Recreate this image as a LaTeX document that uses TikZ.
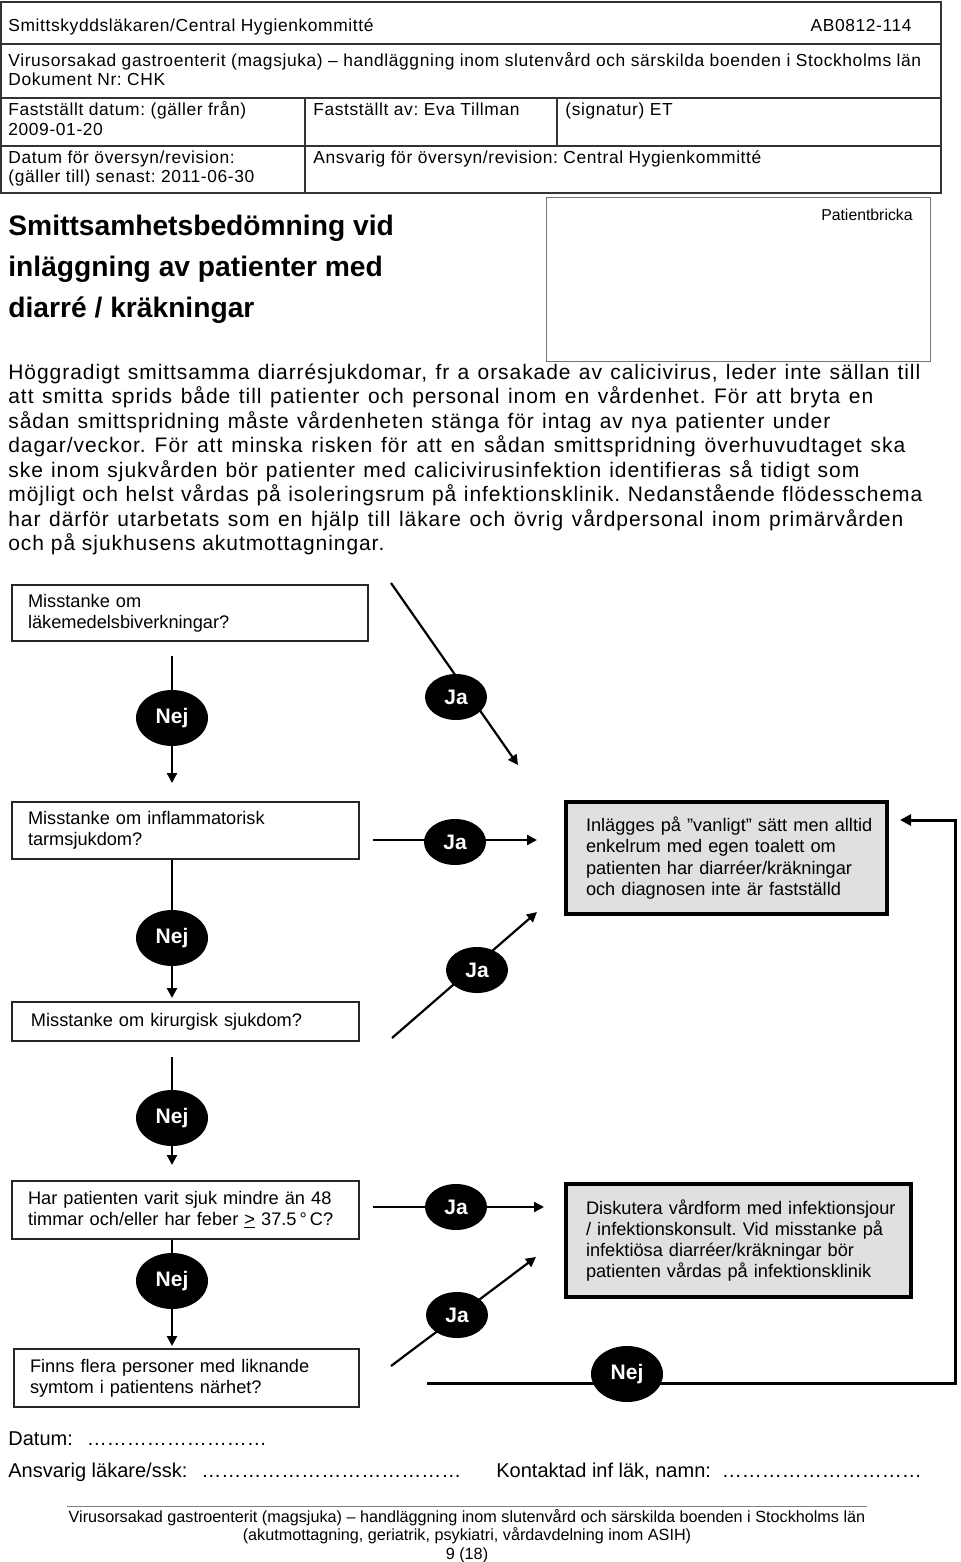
\documentclass[tikz,border=0pt]{standalone}
\usepackage{fontspec}
\setmainfont{Liberation Sans}
\newfontfamily\hdrfont[LetterSpace=3.5]{Liberation Sans}
\newfontfamily\parfont[LetterSpace=4.5]{Liberation Sans}
\usetikzlibrary{shapes.geometric,arrows.meta}
\newcommand{\parline}[2]{\makebox[#1pt][s]{#2}}
\tikzset{
  tbl/.style={draw=black!80, line width=0.8pt},
  hdr/.style={anchor=mid west, inner sep=0pt, font=\hdrfont\fontsize{8.7}{10}\selectfont},
  ttl/.style={anchor=mid west, inner sep=0pt, font=\bfseries\fontsize{14.1}{17}\selectfont},
  ptx/.style={anchor=mid west, inner sep=0pt, font=\parfont\fontsize{10.5}{12}\selectfont},
  qbox/.style={draw=black!85, line width=1pt, fill=white, anchor=north west, align=left,
    inner xsep=8pt, inner ysep=0pt, font=\fontsize{9.1}{10.4}\selectfont},
  gbox/.style={draw=black, line width=2pt, fill=black!12, anchor=north west, align=left,
    inner xsep=10pt, inner ysep=0pt, font=\fontsize{9.1}{10.6}\selectfont},
  yn/.style={ellipse, fill=black, text=white, inner sep=0pt, font=\bfseries\fontsize{10.5}{11}\selectfont},
  nejn/.style={yn, minimum width=36pt, minimum height=28pt},
  jan/.style={yn, minimum width=31pt, minimum height=23pt},
  arr/.style={line width=1.1pt, -{Triangle[length=5pt,width=5pt]}},
  looparr/.style={line width=1.5pt, -{Triangle[length=5.5pt,width=5.5pt]}},
  ftx/.style={anchor=mid west, inner sep=0pt, font=\fontsize{10}{12}\selectfont},
  fot/.style={anchor=mid, inner sep=0pt, font=\fontsize{8.1}{9.5}\selectfont},
}
\begin{document}
\frenchspacing
\begin{tikzpicture}[x=0.5pt,y=-0.5pt]
\useasboundingbox (0,0) rectangle (960,1562);

% ---------- header table ----------
\draw[tbl] (1,2) rectangle (941,193);
\draw[tbl] (1,44) -- (941,44);
\draw[tbl] (1,98) -- (941,98);
\draw[tbl] (1,146) -- (941,146);
\draw[tbl] (305,98) -- (305,193);
\draw[tbl] (557,98) -- (557,146);

\node[hdr] (h1) at (8,26) {Smittskyddsläkaren/Central Hygienkommitté};
\node[hdr, anchor=mid east] (h2) at (912,26) {AB0812-114};
\node[hdr] (h3) at (8,61) {Virusorsakad gastroenterit (magsjuka) – handläggning inom slutenvård och särskilda boenden i Stockholms län};
\node[hdr] (h4) at (8,80) {Dokument Nr: CHK};
\node[hdr] (h5) at (8,110) {Fastställt datum: (gäller från)};
\node[hdr] (h6) at (8,130) {2009-01-20};
\node[hdr] (h7) at (313,110) {Fastställt av: Eva Tillman};
\node[hdr] (h8) at (565,110) {(signatur) ET};
\node[hdr] (h9) at (8,158) {Datum för översyn/revision:};
\node[hdr] (h10) at (8,177) {(gäller till) senast: 2011-06-30};
\node[hdr] (h11) at (313,158) {Ansvarig för översyn/revision: Central Hygienkommitté};

% ---------- title and patient label ----------
\node[ttl] (t1) at (8,230) {Smittsamhetsbedömning vid};
\node[ttl] (t2) at (8,271) {inläggning av patienter med};
\node[ttl] (t3) at (8,312) {diarré / kräkningar};

\draw[draw=black!55, line width=0.5pt] (546,198) rectangle (930,361);
\node[anchor=mid east, inner sep=0pt, font=\fontsize{7.9}{9}\selectfont] (pb) at (913,215) {Patientbricka};

% ---------- paragraph ----------
\node[ptx] (p1) at (8,374) {\parline{456}{Höggradigt smittsamma diarrésjukdomar, fr a orsakade av calicivirus, leder inte sällan till}};
\node[ptx] (p2) at (8,398) {\parline{432.5}{att smitta sprids både till patienter och personal inom en vårdenhet. För att bryta en}};
\node[ptx] (p3) at (8,423) {\parline{411}{sådan smittspridning måste vårdenheten stänga för intag av nya patienter under}};
\node[ptx] (p4) at (8,447) {\parline{448.5}{dagar/veckor. För att minska risken för att en sådan smittspridning överhuvudtaget ska}};
\node[ptx] (p5) at (8,472) {\parline{425.5}{ske inom sjukvården bör patienter med calicivirusinfektion identifieras så tidigt som}};
\node[ptx] (p6) at (8,496) {\parline{457}{möjligt och helst vårdas på isoleringsrum på infektionsklinik. Nedanstående flödesschema}};
\node[ptx] (p7) at (8,521) {\parline{447.5}{har därför utarbetats som en hjälp till läkare och övrig vårdpersonal inom primärvården}};
\node[ptx] (p8) at (8,545) {och på sjukhusens akutmottagningar.};

% ---------- flowchart boxes ----------
\node[qbox, text width=162pt, minimum height=28pt] (q1) at (11,584) {Misstanke om\\läkemedelsbiverkningar?};
\node[qbox, text width=157.5pt, minimum height=28.5pt] (q2) at (11,801) {Misstanke om inflammatorisk\\tarmsjukdom?};
\node[qbox, inner xsep=9.5pt, text width=154.5pt, minimum height=19.5pt] (q3) at (11,1001) {Misstanke om kirurgisk sjukdom?};
\node[qbox, text width=157.5pt, minimum height=29pt] (q4) at (11,1180) {Har patienten varit sjuk mindre än 48\\timmar och/eller har feber \underline{>} 37.5\,°\,C?};
\node[qbox, text width=156.5pt, minimum height=29pt] (q5) at (13,1348) {Finns flera personer med liknande\\symtom i patientens närhet?};

\node[gbox, text width=140.5pt, minimum height=56pt] (g1) at (564,800)
  {\mbox{Inlägges på ”vanligt” sätt men alltid}\\\mbox{enkelrum med egen toalett om}\\\mbox{patienten har diarréer/kräkningar}\\\mbox{och diagnosen inte är fastställd}};
\node[gbox, text width=152.5pt, minimum height=56.5pt] (g2) at (564,1182)
  {\mbox{Diskutera vårdform med infektionsjour}\\\mbox{/ infektionskonsult. Vid misstanke på}\\\mbox{infektiösa diarréer/kräkningar bör}\\\mbox{patienten vårdas på infektionsklinik}};

% ---------- connector end points ----------
\coordinate (a1s) at (172,656);  \coordinate (a1e) at (172,783);
\coordinate (a2s) at (391,583);  \coordinate (a2e) at (518,765);
\coordinate (a3s) at (373,840);  \coordinate (a3e) at (537,840);
\coordinate (a4e) at (172,998);
\coordinate (a5s) at (392,1038); \coordinate (a5e) at (537,912);
\coordinate (a6s) at (172,1057); \coordinate (a6e) at (172,1165);
\coordinate (a7s) at (373,1207); \coordinate (a7e) at (544,1207);
\coordinate (a8e) at (172,1346);
\coordinate (a9s) at (391,1366); \coordinate (a9e) at (536,1257);
\coordinate (lpa) at (427,1383); \coordinate (lpb) at (955,1383);
\coordinate (lpc) at (955,820);  \coordinate (lpd) at (900,820);

% ---------- connectors ----------
\draw[arr] (a1s) -- (a1e);
\draw[arr] (a2s) -- (a2e);
\draw[arr] (a3s) -- (a3e);
\draw[arr] (q2.south -| a4e) -- (a4e);
\draw[arr] (a5s) -- (a5e);
\draw[arr] (a6s) -- (a6e);
\draw[arr] (a7s) -- (a7e);
\draw[arr] (q4.south -| a8e) -- (a8e);
\draw[arr] (a9s) -- (a9e);
\draw[looparr] (lpa) -- (lpb) -- (lpc) -- (lpd);

% ---------- Ja / Nej labels ----------
\node[nejn] (n1) at (172,718) {Nej};
\node[jan]  (j1) at (456,697) {Ja};
\node[jan]  (j2) at (455,842) {Ja};
\node[nejn] (n2) at (172,938) {Nej};
\node[jan]  (j3) at (477,970) {Ja};
\node[nejn] (n3) at (172,1118) {Nej};
\node[jan]  (j4) at (456,1207) {Ja};
\node[nejn] (n4) at (172,1281) {Nej};
\node[jan]  (j5) at (457,1315) {Ja};
\node[nejn] (n5) at (627,1374) {Nej};

% ---------- signature lines ----------
\node[ftx] (f1) at (8,1440) {Datum:\hspace{7pt}………………………};
\node[ftx] (f2) at (8,1472) {Ansvarig läkare/ssk:\hspace{7pt}…………………………………};
\node[ftx] (f3) at (496,1472) {Kontaktad inf läk, namn:\hspace{5.5pt}…………………………};

% ---------- page footer ----------
\draw[draw=black!50, line width=0.5pt] (67,1506) -- (867,1506);
\node[fot] (ft1) at (467,1517) {Virusorsakad gastroenterit (magsjuka) – handläggning inom slutenvård och särskilda boenden i Stockholms län};
\node[fot] (ft2) at (467,1535) {(akutmottagning, geriatrik, psykiatri, vårdavdelning inom ASIH)};
\node[fot] (ft3) at (467,1554) {9 (18)};
\end{tikzpicture}
\end{document}
